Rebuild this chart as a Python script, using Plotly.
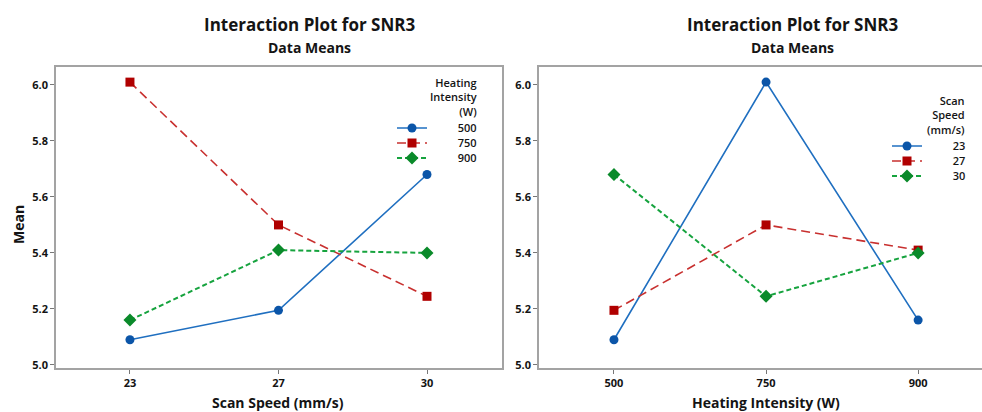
import plotly.graph_objects as go

# ---- data ----
scan_speeds = ["23", "27", "30"]
heat_intensities = ["500", "750", "900"]

# Left panel: mean SNR3 vs scan speed, one series per heating intensity
mean_hi_500 = [5.09, 5.195, 5.68]
mean_hi_750 = [6.01, 5.50, 5.245]
mean_hi_900 = [5.16, 5.41, 5.40]

# Right panel: mean SNR3 vs heating intensity, one series per scan speed
mean_ss_23 = [5.09, 6.01, 5.16]
mean_ss_27 = [5.195, 5.50, 5.41]
mean_ss_30 = [5.68, 5.245, 5.40]

y_ticks = [5.0, 5.2, 5.4, 5.6, 5.8, 6.0]

# ---- styles / layout ----
W, H = 982, 412
L, R, T, B = 56, 982, 67, 368   # plot-area box in pixels
FONT = "Open Sans"
TXT = "#141414"
styles = [
    dict(line=dict(color="#1f6fc0", width=1.6, dash="solid"),
         marker=dict(color="#0b55a8", symbol="circle", size=9)),
    dict(line=dict(color="#c8302f", width=1.6, dash="9px,5px"),
         marker=dict(color="#b00000", symbol="square", size=9)),
    dict(line=dict(color="#16a33e", width=2, dash="5px,3px"),
         marker=dict(color="#0a8a2a", symbol="diamond", size=10)),
]

def px(x):
    return (x - L) / (R - L)

def py(y):
    return (B - y) / (B - T)

fig = go.Figure()

left_series = [("500", mean_hi_500), ("750", mean_hi_750), ("900", mean_hi_900)]
right_series = [("23", mean_ss_23), ("27", mean_ss_27), ("30", mean_ss_30)]

pad = "\u00a0" * 9
left_leg_y = [128, 143, 158]
right_leg_y = [146, 161, 176]

for i, (name, vals) in enumerate(left_series):
    lg = "legend" if i == 0 else f"legend{i+1}"
    fig.add_trace(go.Scatter(x=scan_speeds, y=vals, mode="lines+markers",
                             name=pad + name, legend=lg, xaxis="x", yaxis="y",
                             **styles[i]))
for i, (name, vals) in enumerate(right_series):
    lg = f"legend{i+4}"
    fig.add_trace(go.Scatter(x=heat_intensities, y=vals, mode="lines+markers",
                             name=pad + name, legend=lg, xaxis="x2", yaxis="y2",
                             **styles[i]))

leg_common = dict(bgcolor="rgba(0,0,0,0)", borderwidth=0,
                  font=dict(family=FONT, size=11, color=TXT, weight=600),
                  xanchor="left", yanchor="middle", itemwidth=30,
                  tracegroupgap=0)
legends = {}
for i, yy in enumerate(left_leg_y):
    key = "legend" if i == 0 else f"legend{i+1}"
    legends[key] = dict(x=px(392), y=py(yy), **leg_common)
for i, yy in enumerate(right_leg_y):
    legends[f"legend{i+4}"] = dict(x=px(887), y=py(yy), **leg_common)

def axis_style(mirror=True):
    return dict(showline=True, linecolor="#a3a3a3", linewidth=1.5, mirror=mirror,
                showgrid=False, zeroline=False, automargin=False,
                ticks="outside", ticklen=4, tickcolor="#777", tickwidth=1,
                tickfont=dict(family=FONT, size=11, color=TXT, weight="bold"))

y_range = [4.989, 6.064]

fig.update_layout(
    width=W, height=H,
    margin=dict(l=L, r=W - R, t=T, b=H - B, autoexpand=False),
    paper_bgcolor="white", plot_bgcolor="white",
    xaxis=dict(domain=[0, px(502)], type="category",
               range=[-0.498, 2.505], anchor="y", **axis_style()),
    yaxis=dict(domain=[0, 1], range=y_range, anchor="x",
               tickvals=y_ticks, tickformat=".1f", **axis_style()),
    xaxis2=dict(domain=[px(539), 1.0], type="category",
                range=[-0.493, 2.42], anchor="y2", **axis_style()),
    yaxis2=dict(domain=[0, 1], range=y_range, anchor="x2",
                tickvals=y_ticks, tickformat=".1f", **axis_style(False)),
    showlegend=True,
    **legends,
)

ann = []
def text(x, y, s, size, weight="bold", **kw):
    ann.append(dict(x=px(x), y=py(y), xref="paper", yref="paper",
                    xanchor=kw.pop("xanchor", "center"), yanchor="middle",
                    text=s, showarrow=False,
                    font=dict(family=FONT, size=size, color=TXT, weight=weight),
                    **kw))

text(309, 25, "Interaction Plot for SNR3", 17)
text(309, 47, "Data Means", 14)
text(792, 25, "Interaction Plot for SNR3", 17)
text(792, 47, "Data Means", 14)
text(278, 402, "Scan Speed (mm/s)", 14)
text(766, 402, "Heating Intensity (W)", 14)
text(18, 225, "Mean", 14, textangle=-90)
text(479, 97, "Heating<br>Intensity<br>(W)", 11, weight=600,
     xanchor="right", align="right")
text(967, 115, "Scan<br>Speed<br>(mm/s)", 11, weight=600,
     xanchor="right", align="right")

fig.update_layout(annotations=ann)

fig.write_html("out.html",
               config={"displayModeBar": False},
               post_script="document.body.style.margin='0';"
                           "document.body.style.overflow='hidden';")
